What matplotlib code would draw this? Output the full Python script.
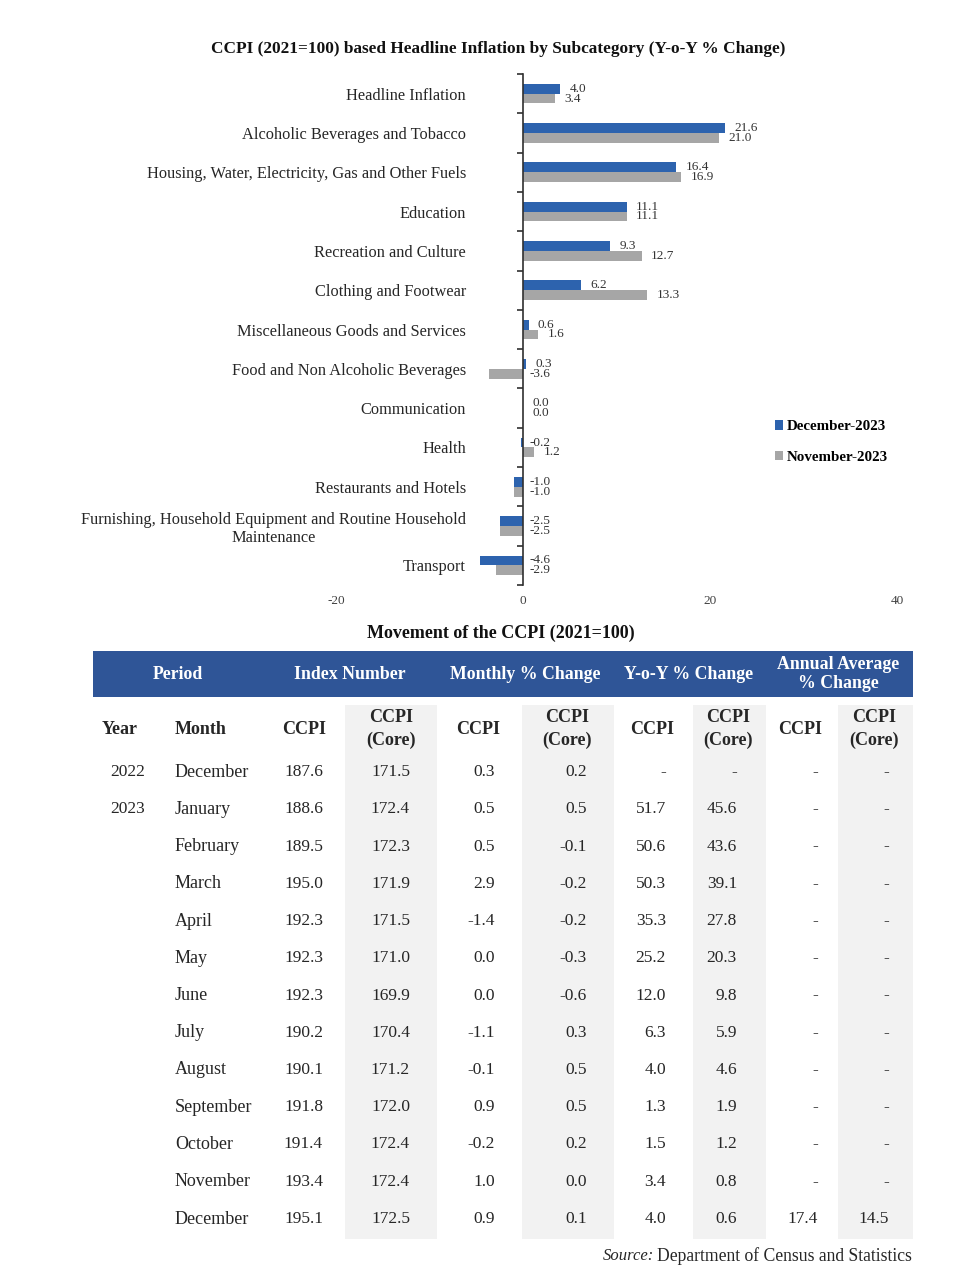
import numpy as np
import matplotlib
matplotlib.use('Agg')
import matplotlib.pyplot as plt
from matplotlib.patches import Rectangle

plt.rcParams['font.family'] = ['Liberation Serif', 'DejaVu Serif']

# ---- bar chart data (Y-o-Y % change)
cats = ['Headline Inflation',
        'Alcoholic Beverages and Tobacco',
        'Housing, Water, Electricity, Gas and Other Fuels',
        'Education',
        'Recreation and Culture',
        'Clothing and Footwear',
        'Miscellaneous Goods and Services',
        'Food and Non Alcoholic Beverages',
        'Communication',
        'Health',
        'Restaurants and Hotels',
        'Furnishing, Household Equipment and Routine Household\nMaintenance',
        'Transport']
dec23 = [4.0, 21.6, 16.4, 11.1, 9.3, 6.2, 0.6, 0.3, 0.0, -0.2, -1.0, -2.5, -4.6]
nov23 = [3.4, 21.0, 16.9, 11.1, 12.7, 13.3, 1.6, -3.6, 0.0, 1.2, -1.0, -2.5, -2.9]
xticks = [-20, 0, 20, 40]

# ---- table data
years = ['2022', '2023', '', '', '', '', '', '', '', '', '', '', '']
months = ['December', 'January', 'February', 'March', 'April', 'May', 'June',
          'July', 'August', 'September', 'October', 'November', 'December']
ccpi = [187.6, 188.6, 189.5, 195.0, 192.3, 192.3, 192.3, 190.2, 190.1, 191.8, 191.4, 193.4, 195.1]
ccpi_core = [171.5, 172.4, 172.3, 171.9, 171.5, 171.0, 169.9, 170.4, 171.2, 172.0, 172.4, 172.4, 172.5]
mom_ccpi = [0.3, 0.5, 0.5, 2.9, -1.4, 0.0, 0.0, -1.1, -0.1, 0.9, -0.2, 1.0, 0.9]
mom_core = [0.2, 0.5, -0.1, -0.2, -0.2, -0.3, -0.6, 0.3, 0.5, 0.5, 0.2, 0.0, 0.1]
yoy_ccpi = [None, 51.7, 50.6, 50.3, 35.3, 25.2, 12.0, 6.3, 4.0, 1.3, 1.5, 3.4, 4.0]
yoy_core = [None, 45.6, 43.6, 39.1, 27.8, 20.3, 9.8, 5.9, 4.6, 1.9, 1.2, 0.8, 0.6]
avg_ccpi = [None] * 12 + [17.4]
avg_core = [None] * 12 + [14.5]

groups = ['Period', 'Index Number', 'Monthly % Change', 'Y-o-Y % Change',
          'Annual Average\n% Change']
subheads = ['CCPI', 'CCPI\n(Core)'] * 4

blue = '#2D63AE'
grey = '#A6A6A6'
band = '#2F5597'
shade = '#F2F2F2'
txt = '#262626'

W, H = 956, 1288
fig = plt.figure(figsize=(W / 100, H / 100), dpi=100)

# pixel-coordinate canvas for titles and the table
bg = fig.add_axes([0, 0, 1, 1], zorder=0)
bg.set_xlim(0, W)
bg.set_ylim(H, 0)
bg.axis('off')

def px_box(l, t, r, b):
    return [l / W, 1 - b / H, (r - l) / W, (b - t) / H]

# ---- bar chart
ax = fig.add_axes(px_box(336, 74, 897, 585), zorder=2)
ax.patch.set_alpha(0)
y = np.arange(len(cats))
h = 0.25
ax.barh(y - h / 2, dec23, height=h, color=blue, label='December-2023')
ax.barh(y + h / 2, nov23, height=h, color=grey, label='November-2023')
ax.set_xlim(-20, 40)
ax.set_ylim(len(cats) - 0.5, -0.5)
ax.set_xticks(xticks)
ax.set_xticklabels([str(v) for v in xticks])
ax.tick_params(axis='x', length=0, pad=7, labelsize=9.5, labelcolor='#404040')
for s in ['top', 'right', 'bottom']:
    ax.spines[s].set_visible(False)
ax.spines['left'].set_position(('data', 0))
ax.spines['left'].set_color('#303030')
ax.spines['left'].set_linewidth(1.2)
ax.set_yticks(np.arange(-0.5, len(cats), 1))
ax.set_yticklabels([])
ax.set_yticks(y, minor=True)
ax.set_yticklabels(cats, minor=True)
ax.tick_params(axis='y', which='major', direction='out', length=4, width=1.2, color='#303030')
ax.tick_params(axis='y', which='minor', length=0, pad=41, labelsize=11.8, labelcolor=txt)
for lab in ax.get_yticklabels(minor=True):
    lab.set_multialignment('center')

for i in range(len(cats)):
    for v, yy in ((dec23[i], y[i] - h / 2), (nov23[i], y[i] + h / 2)):
        xx = v + 1.0 if v >= 0 else 0.65
        ax.text(xx, yy, '%.1f' % v, ha='left', va='center', fontsize=9.5, color='#333333')

ax.legend(loc='center left', bbox_to_anchor=(0.758, 0.28), frameon=False,
          handlelength=0.55, handleheight=0.55, handletextpad=0.25,
          labelspacing=1.15, prop={'weight': 'bold', 'size': 10.8})

bg.text(498, 49, 'CCPI (2021=100) based Headline Inflation by Subcategory (Y-o-Y % Change)',
        ha='center', va='center', fontsize=12.4, fontweight='bold', color='#111111')

# ---- table
bg.text(501, 633, 'Movement of the CCPI (2021=100)', ha='center', va='center',
        fontsize=13, fontweight='bold', color='#111111')
bg.add_patch(Rectangle((93, 651), 820, 46, color=band, lw=0))
group_x = [178, 350, 525, 689, 838]
for gx, g in zip(group_x, groups):
    bg.text(gx, 674, g, ha='center', va='center', color='white', fontsize=12.8,
            fontweight='bold', linespacing=1.15)

shade_cols = [(345, 437), (522, 614), (693, 766), (838, 913)]
for l, r in shade_cols:
    bg.add_patch(Rectangle((l, 705), r - l, 534, color=shade, lw=0))

bg.text(120, 729, 'Year', ha='center', va='center', fontsize=13, fontweight='bold', color=txt)
bg.text(175, 729, 'Month', ha='left', va='center', fontsize=13, fontweight='bold', color=txt)
sub_x = [304, 391, 478, 567, 652, 728, 800, 874]
for sx, s in zip(sub_x, subheads):
    bg.text(sx, 729, s, ha='center', va='center', fontsize=13, fontweight='bold',
            color=txt, linespacing=1.45)

cols = [ccpi, ccpi_core, mom_ccpi, mom_core, yoy_ccpi, yoy_core, avg_ccpi, avg_core]
right_x = [323, 410, 495, 587, 666, 737, 818, 889]
row0, dy = 772, 37.25
for i in range(len(months)):
    ry = row0 + i * dy
    bg.text(128, ry, years[i], ha='center', va='center', fontsize=12.5, color=txt)
    bg.text(175, ry, months[i], ha='left', va='center', fontsize=13, color=txt)
    for rx, col in zip(right_x, cols):
        v = col[i]
        s = '-' if v is None else '%.1f' % v
        bg.text(rx, ry, s, ha='right', va='center', fontsize=12.5, color=txt)

src = bg.text(912, 1256, 'Department of Census and Statistics',
              ha='right', va='center', fontsize=12.7, color=txt)
fig.canvas.draw()
bb = src.get_window_extent().transformed(bg.transData.inverted())
bg.text(min(bb.x0, bb.x1) - 3, 1256, 'Source:', ha='right', va='center',
        fontsize=12, style='italic', color=txt)

fig.savefig('out.png', dpi=100)
